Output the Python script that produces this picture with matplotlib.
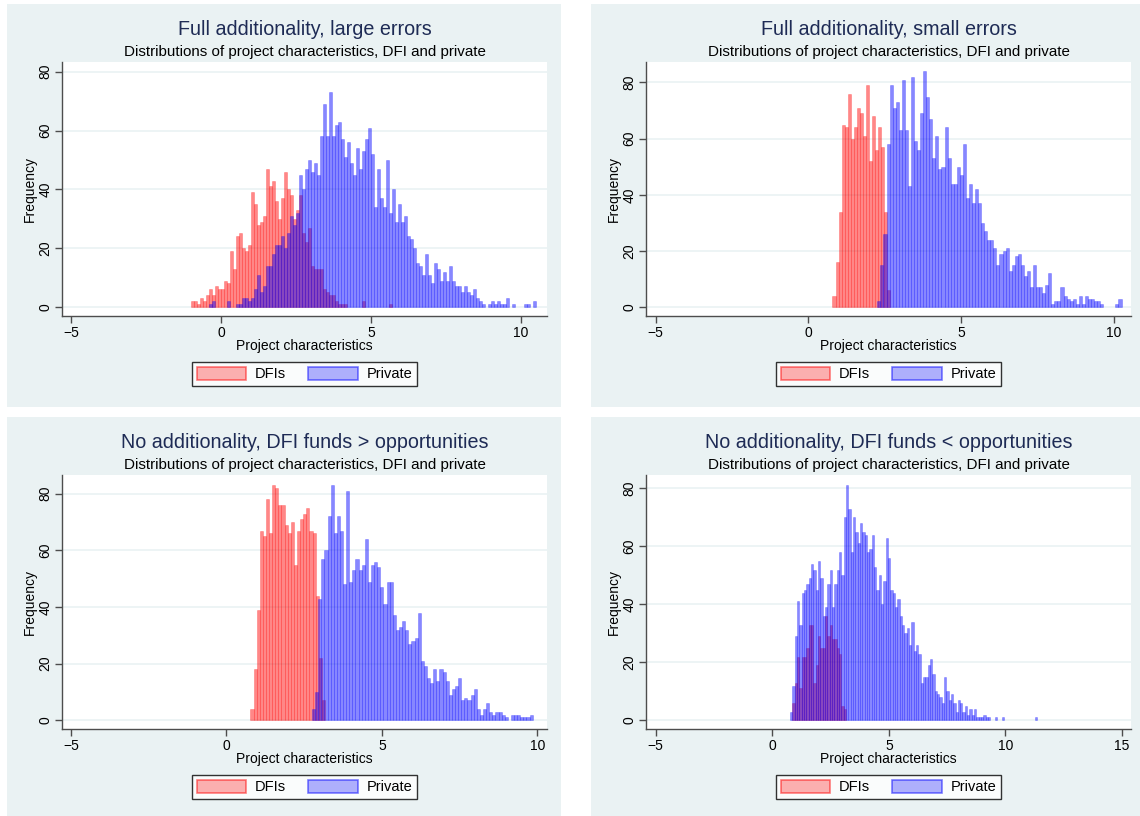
import numpy as np
import matplotlib.pyplot as plt
from matplotlib.patches import Rectangle, Patch

plt.rcParams['font.family'] = ['Liberation Sans', 'DejaVu Sans']

W, H = 1140, 816
bin_w = 0.1

subtitle = "Distributions of project characteristics, DFI and private"
titles = ["Full additionality, large errors",
          "Full additionality, small errors",
          "No additionality, DFI funds > opportunities",
          "No additionality, DFI funds < opportunities"]

# bar heights, one value per 0.1-wide bin
p1_dfi_start = -1.0
p1_dfi = [2, 2, 1, 3, 2, 4, 6, 4, 7, 6,
          6, 9, 8, 19, 13, 24, 25, 20, 19, 21,
          39, 35, 28, 29, 31, 47, 41, 43, 36, 30,
          37, 46, 40, 38, 30, 33, 38, 25, 22, 27,
          14, 13, 13, 13, 6, 5, 4, 4, 2, 1,
          1, 1, 0, 0, 0, 0, 0, 2, 0, 0,
          0, 0, 0, 0, 0, 0, 1]
p1_priv_start = -0.4
p1_priv = [1, 2, 0, 0, 0, 0, 2, 0, 0, 1,
           1, 3, 3, 2, 3, 6, 11, 5, 7, 14,
           14, 18, 21, 21, 24, 20, 25, 31, 28, 32,
           45, 40, 47, 50, 46, 49, 45, 58, 69, 58,
           73, 58, 62, 63, 57, 51, 56, 49, 45, 54,
           47, 53, 57, 61, 52, 34, 47, 37, 34, 50,
           32, 40, 29, 35, 29, 31, 24, 23, 20, 15,
           14, 11, 18, 11, 8, 15, 13, 9, 12, 9,
           14, 9, 7, 7, 5, 7, 5, 4, 6, 3,
           2, 1, 0, 1, 2, 1, 2, 1, 1, 3,
           0, 1, 0, 0, 0, 1, 1, 0, 2]

p2_dfi_start = 0.79
p2_dfi = [4, 16, 34, 65, 64, 76, 60, 64, 71, 69,
          61, 79, 52, 68, 56, 64, 57, 34, 6]
p2_priv_start = 2.26
p2_priv = [2, 15, 26, 58, 79, 71, 73, 63, 81, 63,
           43, 82, 59, 56, 69, 84, 75, 67, 53, 61,
           49, 50, 64, 53, 44, 44, 50, 47, 58, 39,
           44, 37, 42, 37, 30, 27, 24, 24, 21, 15,
           19, 20, 21, 13, 15, 18, 19, 15, 11, 13,
           7, 15, 7, 7, 5, 8, 12, 1, 2, 2,
           7, 4, 3, 2, 3, 1, 4, 1, 4, 3,
           3, 2, 2, 1, 0, 0, 0, 0, 1, 3]

p3_dfi_start = 0.77
p3_dfi = [4, 18, 39, 67, 65, 78, 66, 83, 82, 76,
          76, 69, 66, 70, 55, 67, 71, 73, 75, 67,
          66, 44, 22, 7]
p3_priv_start = 2.75
p3_priv = [4, 10, 43, 57, 60, 72, 83, 66, 72, 67,
           48, 81, 49, 53, 57, 53, 55, 64, 49, 55,
           56, 54, 47, 41, 49, 49, 37, 32, 33, 35,
           32, 27, 28, 29, 38, 21, 19, 15, 13, 18,
           14, 18, 17, 14, 9, 11, 12, 15, 7, 8,
           7, 9, 11, 4, 2, 4, 6, 3, 2, 3,
           3, 2, 1, 0, 2, 2, 2, 1, 1, 1,
           2]

p4_dfi_start = 0.86
p4_dfi = [6, 13, 22, 11, 22, 22, 25, 33, 33, 13,
          19, 29, 25, 25, 36, 29, 33, 28, 28, 25,
          23, 5, 4]
p4_priv_start = 0.76
p4_priv = [3, 12, 29, 41, 33, 44, 45, 47, 49, 54,
           52, 45, 55, 49, 36, 39, 47, 52, 39, 47,
           52, 58, 50, 70, 81, 73, 58, 70, 65, 61,
           68, 65, 64, 58, 59, 64, 53, 45, 50, 40,
           48, 63, 56, 45, 44, 39, 42, 36, 33, 30,
           32, 26, 34, 24, 26, 23, 13, 15, 15, 19,
           21, 16, 10, 9, 8, 6, 15, 10, 7, 9,
           6, 3, 7, 6, 3, 5, 2, 4, 2, 4,
           1, 1, 1, 2, 1, 1, 0, 0, 1, 0,
           0, 1, 0, 0, 0, 0, 0, 0, 0, 0,
           0, 0, 0, 0, 0, 1]

panels = [
    dict(dfi=(p1_dfi_start, p1_dfi), priv=(p1_priv_start, p1_priv),
         box=(62, 62, 547, 316), bg=(7, 4, 561, 407),
         xlim=(-5.3, 10.87), ylim=(-3.06, 83.3), xticks=[-5, 0, 5, 10]),
    dict(dfi=(p2_dfi_start, p2_dfi), priv=(p2_priv_start, p2_priv),
         box=(646, 62, 1131, 316), bg=(591, 4, 1140, 407),
         xlim=(-5.32, 10.57), ylim=(-3.2, 87.3), xticks=[-5, 0, 5, 10]),
    dict(dfi=(p3_dfi_start, p3_dfi), priv=(p3_priv_start, p3_priv),
         box=(62, 475, 547, 729), bg=(7, 417, 561, 816),
         xlim=(-5.29, 10.31), ylim=(-3.07, 86.6), xticks=[-5, 0, 5, 10]),
    dict(dfi=(p4_dfi_start, p4_dfi), priv=(p4_priv_start, p4_priv),
         box=(646, 475, 1131, 729), bg=(591, 417, 1140, 816),
         xlim=(-5.42, 15.39), ylim=(-3.0, 84.6), xticks=[-5, 0, 5, 10, 15]),
]

red_face = (1, 0, 0, 0.47)
red_edge = (1, 0, 0, 0.3)
blue_face = (0, 0, 1, 0.47)
blue_edge = (0, 0, 1, 0.3)
bg_col = '#EAF2F3'
axis_col = '#4D4D4D'

fig = plt.figure(figsize=(W / 100, H / 100), dpi=100)
fig.patch.set_facecolor('white')


def draw_hist(ax, start, counts, fc, ec):
    h = np.array(counts, dtype=float)
    x = start + bin_w * np.arange(len(h))
    keep = h > 0
    ax.bar(x[keep], h[keep], width=bin_w, align='edge',
           facecolor=fc, edgecolor=ec, linewidth=0.5, zorder=2)


for i, p in enumerate(panels):
    bx0, by0, bx1, by1 = p['bg']
    fig.add_artist(Rectangle((bx0 / W, 1 - by1 / H), (bx1 - bx0) / W, (by1 - by0) / H,
                             transform=fig.transFigure, facecolor=bg_col,
                             edgecolor='none', zorder=-10))
    l, t, r, b = p['box']
    ax = fig.add_axes([l / W, 1 - b / H, (r - l) / W, (b - t) / H])
    ax.set_facecolor('white')

    draw_hist(ax, p['dfi'][0], p['dfi'][1], red_face, red_edge)
    draw_hist(ax, p['priv'][0], p['priv'][1], blue_face, blue_edge)

    ax.set_xlim(p['xlim'])
    ax.set_ylim(p['ylim'])
    ax.set_xticks(p['xticks'])
    ax.set_yticks([0, 20, 40, 60, 80])
    ax.yaxis.grid(True, color=bg_col, linewidth=1.2, zorder=1)
    ax.set_axisbelow(True)
    for s in ['top', 'right']:
        ax.spines[s].set_visible(False)
    for s in ['left', 'bottom']:
        ax.spines[s].set_color(axis_col)
        ax.spines[s].set_linewidth(1.0)
    ax.tick_params(direction='out', length=5, width=1, color=axis_col,
                   labelsize=10, pad=2)
    plt.setp(ax.get_yticklabels(), rotation=90, va='center')

    ax.text(0.5, 1.127, titles[i], transform=ax.transAxes, ha='center', va='center',
            fontsize=14.2, color='#1E2B55')
    ax.text(0.5, 1.04, subtitle, transform=ax.transAxes, ha='center', va='center',
            fontsize=10.9, color='black')
    ax.text(0.5, -0.12, "Project characteristics", transform=ax.transAxes,
            ha='center', va='center', fontsize=10)
    ax.text(-0.066, 0.5, "Frequency", transform=ax.transAxes, rotation=90,
            ha='center', va='center', fontsize=10)

    handles = [Patch(facecolor=(1, 0, 0, 0.3), edgecolor=(1, 0, 0, 0.5), linewidth=1.2, label='DFIs'),
               Patch(facecolor=(0, 0, 1, 0.3), edgecolor=(0, 0, 1, 0.5), linewidth=1.2, label='Private')]
    leg = ax.legend(handles=handles, loc='center', bbox_to_anchor=(0.5, -0.228),
                    ncol=2, frameon=True, fancybox=False, fontsize=10.5,
                    handlelength=3.4, handleheight=1.0, handletextpad=0.6,
                    columnspacing=1.5, borderpad=0.35, borderaxespad=0)
    leg.get_frame().set_edgecolor('black')
    leg.get_frame().set_linewidth(1.0)

fig.savefig('out.png', dpi=100, facecolor='white')
